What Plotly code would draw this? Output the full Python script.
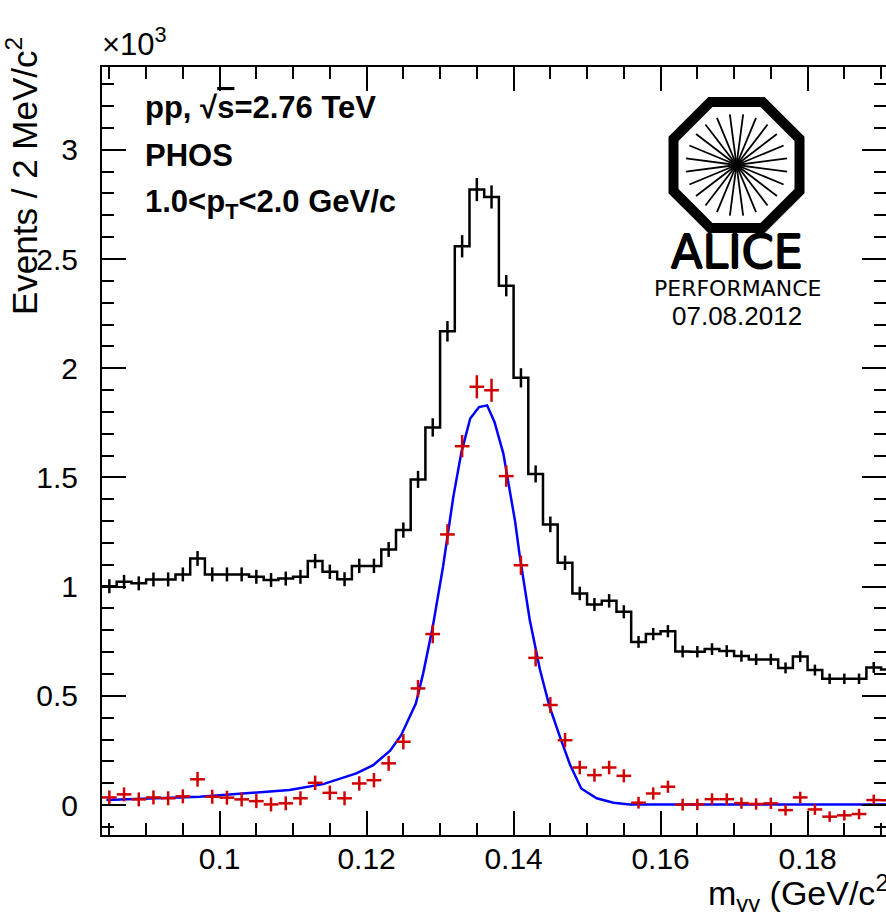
import numpy as np
import plotly.graph_objects as go

# ---------------- data (values in units of 10^3 events) ----------------
bin_centers = [0.085, 0.087, 0.089, 0.091, 0.093, 0.095, 0.097, 0.099, 0.101, 0.103,
               0.105, 0.107, 0.109, 0.111, 0.113, 0.115, 0.117, 0.119, 0.121, 0.123,
               0.125, 0.127, 0.129, 0.131, 0.133, 0.135, 0.137, 0.139, 0.141, 0.143,
               0.145, 0.147, 0.149, 0.151, 0.153, 0.155, 0.157, 0.159, 0.161, 0.163,
               0.165, 0.167, 0.169, 0.171, 0.173, 0.175, 0.177, 0.179, 0.181, 0.183,
               0.185, 0.187, 0.189, 0.191]

total_counts = [1.002, 1.022, 1.015, 1.033, 1.033, 1.056, 1.129, 1.056, 1.056, 1.056,
                1.045, 1.030, 1.037, 1.045, 1.117, 1.068, 1.034, 1.095, 1.095, 1.170,
                1.259, 1.491, 1.729, 2.169, 2.558, 2.818, 2.784, 2.378, 1.956, 1.516,
                1.285, 1.109, 0.969, 0.918, 0.935, 0.885, 0.747, 0.783, 0.796, 0.703,
                0.702, 0.714, 0.705, 0.682, 0.667, 0.667, 0.628, 0.680, 0.618, 0.578,
                0.578, 0.578, 0.630, 0.621]

total_err = [0.032, 0.032, 0.032, 0.032, 0.032, 0.032, 0.034, 0.032, 0.032, 0.032,
             0.032, 0.032, 0.032, 0.032, 0.033, 0.033, 0.032, 0.033, 0.033, 0.034,
             0.035, 0.039, 0.042, 0.047, 0.051, 0.053, 0.053, 0.049, 0.044, 0.039,
             0.036, 0.033, 0.031, 0.030, 0.031, 0.030, 0.027, 0.028, 0.028, 0.027,
             0.026, 0.027, 0.027, 0.026, 0.026, 0.026, 0.025, 0.026, 0.025, 0.024,
             0.024, 0.024, 0.025, 0.025]

signal_counts = [0.035, 0.049, 0.026, 0.035, 0.031, 0.040, 0.118, 0.038, 0.034, 0.026,
                 0.018, 0.003, 0.008, 0.031, 0.102, 0.056, 0.031, 0.099, 0.114, 0.191,
                 0.290, 0.534, 0.783, 1.239, 1.643, 1.915, 1.899, 1.506, 1.098, 0.674,
                 0.458, 0.297, 0.172, 0.137, 0.172, 0.134, 0.011, 0.053, 0.084, 0.002,
                 0.003, 0.027, 0.027, 0.009, 0.005, 0.008, -0.023, 0.035, -0.020, -0.053,
                 -0.047, -0.041, 0.023, 0.022]

signal_err = total_err

fit_x = [0.0846, 0.0973, 0.1095, 0.1141, 0.1186, 0.1209, 0.1232, 0.1247, 0.1267, 0.1277,
         0.1290, 0.1304, 0.1318, 0.1329, 0.1341, 0.1353, 0.1364, 0.1374, 0.1386, 0.1393,
         0.1402, 0.1408, 0.1422, 0.1436, 0.1449, 0.1463, 0.1477, 0.1492, 0.1513, 0.1536,
         0.1558, 0.1600, 0.1920]
fit_y = [0.023, 0.038, 0.069, 0.096, 0.145, 0.183, 0.249, 0.320, 0.465, 0.603,
         0.816, 1.091, 1.411, 1.615, 1.770, 1.822, 1.830, 1.754, 1.610, 1.480,
         1.300, 1.150, 0.847, 0.618, 0.450, 0.313, 0.183, 0.076, 0.031, 0.011,
         0.003, 0.003, 0.003]

bin_width = 0.002
x_range = [0.084, 0.19067]
y_range = [-0.137, 3.379]

# ---------------- figure geometry ----------------
W, H = 886, 912
ML, MR, MT, MB = 102, 0, 67, 77
PW, PH = W - ML - MR, H - MT - MB


def px(xp):
    return (xp - ML) / PW


def py(yp):
    return (H - MB - yp) / PH


BLACK = "#000000"
RED = "#d00000"
BLUE = "#0000ff"
FONT = "Liberation Sans, Arial, Helvetica, sans-serif"

fig = go.Figure()

# total histogram (steps)
edges = [c - bin_width / 2 for c in bin_centers] + [bin_centers[-1] + bin_width / 2]
fig.add_trace(go.Scatter(
    x=edges, y=total_counts + [total_counts[-1]], mode="lines",
    line=dict(color=BLACK, width=2.5, shape="hv"), hoverinfo="skip", showlegend=False))
fig.add_trace(go.Scatter(
    x=bin_centers, y=total_counts, mode="markers", marker=dict(size=0.1, color=BLACK),
    error_y=dict(type="data", array=total_err, color=BLACK, thickness=2.5, width=0),
    hoverinfo="skip", showlegend=False))

# fit curve
fig.add_trace(go.Scatter(
    x=fit_x, y=fit_y, mode="lines", line=dict(color=BLUE, width=2.5),
    hoverinfo="skip", showlegend=False))

# background subtracted signal
fig.add_trace(go.Scatter(
    x=bin_centers, y=signal_counts, mode="markers", marker=dict(size=0.1, color=RED),
    error_y=dict(type="data", array=signal_err, color=RED, thickness=2.5, width=0),
    error_x=dict(type="constant", value=bin_width / 2, color=RED, thickness=2.5, width=0),
    hoverinfo="skip", showlegend=False))

# invisible trace for right-hand ticks
fig.add_trace(go.Scatter(x=[x_range[0]], y=[0], yaxis="y2", mode="markers",
                         marker=dict(size=0.1, color="rgba(0,0,0,0)"),
                         hoverinfo="skip", showlegend=False))

tickfont = dict(family=FONT, size=30, color=BLACK)
fig.update_layout(
    width=W, height=H,
    margin=dict(l=ML, r=MR, t=MT, b=MB, pad=0),
    paper_bgcolor="white", plot_bgcolor="white",
    xaxis=dict(range=x_range, showgrid=False, zeroline=False,
               showline=True, linecolor=BLACK, linewidth=2, mirror="ticks",
               ticks="inside", ticklen=24, tickwidth=2, tickcolor=BLACK,
               tick0=0.1, dtick=0.02, tickfont=tickfont, ticklabelstandoff=-4,
               minor=dict(ticks="inside", ticklen=12, tickwidth=2, tickcolor=BLACK,
                          tick0=0.0, dtick=0.005, showgrid=False)),
    yaxis=dict(range=y_range, showgrid=False, zeroline=False,
               showline=True, linecolor=BLACK, linewidth=2, mirror=False,
               ticks="inside", ticklen=24, tickwidth=2, tickcolor=BLACK,
               tick0=0, dtick=0.5, tickfont=tickfont, ticklabelstandoff=16,
               minor=dict(ticks="inside", ticklen=12, tickwidth=2, tickcolor=BLACK,
                          tick0=0, dtick=0.1, showgrid=False)),
    yaxis2=dict(range=y_range, overlaying="y", side="right", anchor="x",
                showgrid=False, zeroline=False, showline=False,
                ticks="inside", ticklen=24, tickwidth=2, tickcolor=BLACK,
                tick0=0, dtick=0.5, showticklabels=False,
                minor=dict(ticks="inside", ticklen=12, tickwidth=2, tickcolor=BLACK,
                           tick0=0, dtick=0.1, showgrid=False)),
    showlegend=False,
)

# ---------------- annotations ----------------
ann = []
ann.append(dict(text="×10<sup>3</sup>", x=px(100), y=py(64), xref="paper", yref="paper",
                xanchor="left", yanchor="bottom", showarrow=False,
                font=dict(family=FONT, size=31, color=BLACK)))
ann.append(dict(text="Events / 2 MeV/c<sup>2</sup>", x=px(22), y=py(35), xref="paper",
                yref="paper", xanchor="center", yanchor="top", textangle=-90,
                showarrow=False, font=dict(family=FONT, size=35, color=BLACK)))
ann.append(dict(text="m<sub>γγ</sub> (GeV/c<sup>2</sup>)", x=px(706), y=py(893),
                xref="paper", yref="paper", xanchor="left", yanchor="middle",
                showarrow=False, font=dict(family=FONT, size=34, color=BLACK)))
bold_lines = [
    ("pp, √<span style='text-decoration:overline'>s</span>=2.76 TeV", 108),
    ("PHOS", 156),
    ("1.0&lt;p<sub>T</sub>&lt;2.0 GeV/c", 204),
]
for txt, ybase in bold_lines:
    ann.append(dict(text="<b>" + txt + "</b>",
                    x=px(143), y=py(ybase), xref="paper", yref="paper",
                    xanchor="left", yanchor="middle", showarrow=False,
                    font=dict(family=FONT, size=31, color=BLACK)))
ann.append(dict(text="ALICE", x=px(737), y=py(252), xref="paper", yref="paper",
                xanchor="center", yanchor="middle", showarrow=False,
                font=dict(family="DejaVu Sans", size=46, color=BLACK,
                          shadow="0.8px 0 0 #000, -0.8px 0 0 #000, 0 0.6px 0 #000, 0 -0.6px 0 #000")))
ann.append(dict(text="PERFORMANCE", x=px(737), y=py(288), xref="paper", yref="paper",
                xanchor="center", yanchor="middle", showarrow=False,
                font=dict(family="DejaVu Sans", size=22, color=BLACK)))
ann.append(dict(text="07.08.2012", x=px(737), y=py(316), xref="paper", yref="paper",
                xanchor="center", yanchor="middle", showarrow=False,
                font=dict(family=FONT, size=26, color=BLACK)))
fig.update_layout(annotations=ann)

# ---------------- ALICE logo (octagon with spokes) ----------------
cx, cy = 736.5, 165.0


def octagon(r):
    pts = []
    for k in range(8):
        a = np.deg2rad(22.5 + 45 * k)
        rr = r / np.cos(np.deg2rad(22.5))
        pts.append((cx + rr * np.cos(a), cy + rr * np.sin(a)))
    return "M " + " L ".join(f"{px(x):.5f},{py(y):.5f}" for x, y in pts) + " Z"


shapes = [
    dict(type="path", path=octagon(68), xref="paper", yref="paper",
         fillcolor=BLACK, line=dict(width=0), layer="above"),
    dict(type="path", path=octagon(58), xref="paper", yref="paper",
         fillcolor="white", line=dict(width=0), layer="above"),
]
for k in range(24):
    a = np.deg2rad(7.5 + 15 * k)
    r = 51
    shapes.append(dict(type="line", xref="paper", yref="paper",
                       x0=px(cx), y0=py(cy),
                       x1=px(cx + r * np.cos(a)), y1=py(cy + r * np.sin(a)),
                       line=dict(color=BLACK, width=1.8), layer="above"))
fig.update_layout(shapes=shapes)

fig.write_html("out.html", config={"displayModeBar": False},
               post_script="document.body.style.margin='0';document.body.style.overflow='hidden';")
